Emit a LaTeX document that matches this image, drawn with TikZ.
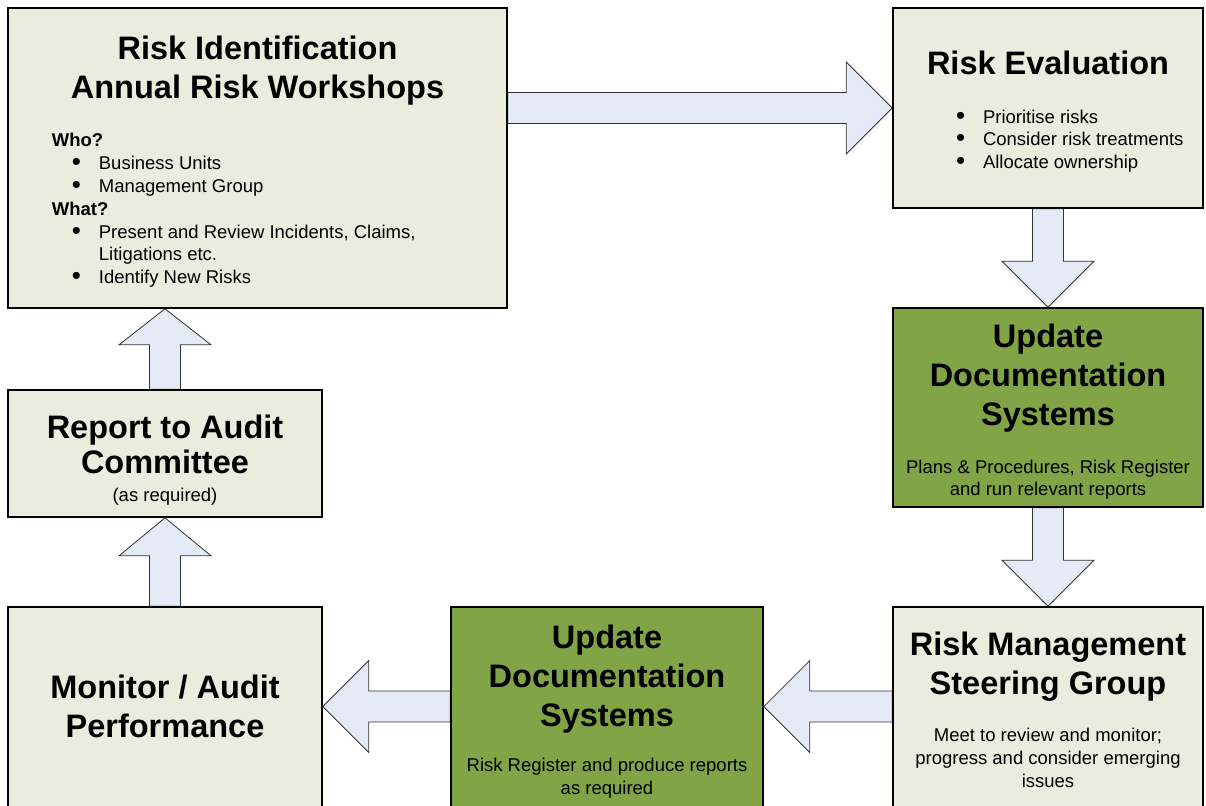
\documentclass[tikz,border=0pt]{standalone}
\usepackage{fontspec}
\setmainfont{Liberation Sans}
\usetikzlibrary{calc,backgrounds}

\definecolor{boxfill}{RGB}{234,237,222}
\definecolor{docgreen}{RGB}{128,164,70}
\definecolor{arrowfill}{RGB}{228,235,246}
\definecolor{arrowline}{RGB}{50,50,50}

\newcommand\titlesize{\fontsize{32.5}{39}\selectfont\bfseries}
\newcommand\bodysize{\fontsize{18.5}{22.8}\selectfont}
\newcommand\bitem[2][47pt]{\makebox[#1][l]{\hspace*{\dimexpr#1-27pt\relax}\smash{\raisebox{-1pt}{\scalebox{1.4}{\textbullet}}}}#2}

\begin{document}
\begin{tikzpicture}[
		x=1pt, y=-1pt,
		box/.style = {draw, line width=1.6pt, fill=boxfill, inner sep=0pt},
		docbox/.style = {box, fill=docgreen},
		boxtitle/.style = {font=\titlesize, align=center, anchor=north, inner sep=0pt},
		boxtext/.style = {font=\bodysize, align=center, anchor=north, inner sep=0pt},
		listtext/.style = {font=\bodysize, align=left, anchor=north west, inner sep=0pt},
		bigarrow/.style = {draw=arrowline, line width=0.8pt, fill=arrowfill,
			to path={($(\tikztotarget)!#1!(\tikztostart)$) coordinate (hb)
				($(\tikztostart)!15.5pt!90:(\tikztotarget)$) -- ($(hb)!15.5pt!90:(\tikztotarget)$)
				-- ($(hb)!46pt!90:(\tikztotarget)$) -- (\tikztotarget)
				-- ($(hb)!46pt!-90:(\tikztotarget)$) -- ($(hb)!15.5pt!-90:(\tikztotarget)$)
				-- ($(\tikztostart)!15.5pt!-90:(\tikztotarget)$) -- cycle}},
		bigarrow/.default = 46pt
	]
	\useasboundingbox (0,0) rectangle (1206,805);

	\node (riskid) [box, minimum width=499pt, minimum height=300pt] at (257.5,158) {};
	\node (riskeval) [box, minimum width=310pt, minimum height=200pt] at (1048,108) {};
	\node (updoc1) [docbox, minimum width=310pt, minimum height=199pt] at (1048,407.5) {};
	% bottom row runs past the lower edge
	\node (steer) [box, minimum width=310pt, minimum height=205pt] at (1048,709.5) {};
	\node (updoc2) [docbox, minimum width=312pt, minimum height=205pt] at (607,709.5) {};
	\node (monitor) [box, minimum width=314pt, minimum height=205pt] at (165,709.5) {};
	\node (report) [box, minimum width=314pt, minimum height=127pt] at (165,453.5) {};

	\node (riskid-title) [boxtitle] at (257.5,36) {Risk Identification\\Annual Risk Workshops};
	\node (riskid-list) [listtext] at (51.7,133.3) {\textbf{Who?}\\
		\bitem{Business Units}\\
		\bitem{Management Group}\\
		\textbf{What?}\\
		\bitem{Present and Review Incidents, Claims,}\\
		\hspace*{47pt}Litigations etc.\\
		\bitem{Identify New Risks}};
	\node (riskeval-title) [boxtitle] at (1048,50.5) {Risk Evaluation};
	\node (riskeval-list) [listtext] at (956.8,109.5) {\bitem[26pt]{Prioritise risks}\\
		\bitem[26pt]{Consider risk treatments}\\
		\bitem[26pt]{Allocate ownership}};
	\node (updoc1-title) [boxtitle] at (1048,323.5) {Update\\Documentation\\Systems};
	\node (updoc1-text) [boxtext] at (1048,459.5) {Plans \& Procedures, Risk Register\\and run relevant reports};
	\node (steer-title) [boxtitle] at (1048,631.7) {Risk Management\\Steering Group};
	\node (steer-text) [boxtext] at (1048,728.3) {Meet to review and monitor;\\progress and consider emerging\\issues};
	\node (updoc2-title) [boxtitle] at (607,625) {Update\\Documentation\\Systems};
	\node (updoc2-text) [boxtext] at (607,758.3) {Risk Register and produce reports\\as required};
	\node (monitor-title) [boxtitle] at (165,674.5) {Monitor / Audit\\Performance};
	\node (report-title) [boxtitle, font={\fontsize{32.5}{35}\selectfont\bfseries}] at (165,415) {Report to Audit\\Committee};
	\node (report-text) [boxtext] at (165,487.5) {(as required)};

	\begin{scope}[on background layer]
		\path [bigarrow] (riskid.east |- riskeval.west) to (riskeval.west);
		\path [bigarrow] (riskeval.south) to (updoc1.north);
		\path [bigarrow] (updoc1.south) to (steer.north);
		\path [bigarrow] ([yshift=3pt]steer.west) to ([yshift=3pt]updoc2.east);
		\path [bigarrow] ([yshift=3pt]updoc2.west) to ([yshift=3pt]monitor.east);
		\path [bigarrow=38pt] (monitor.north) to (report.south);
		\path [bigarrow=36pt] (report.north) to (riskid.south -| report.north);
	\end{scope}
\end{tikzpicture}
\end{document}
